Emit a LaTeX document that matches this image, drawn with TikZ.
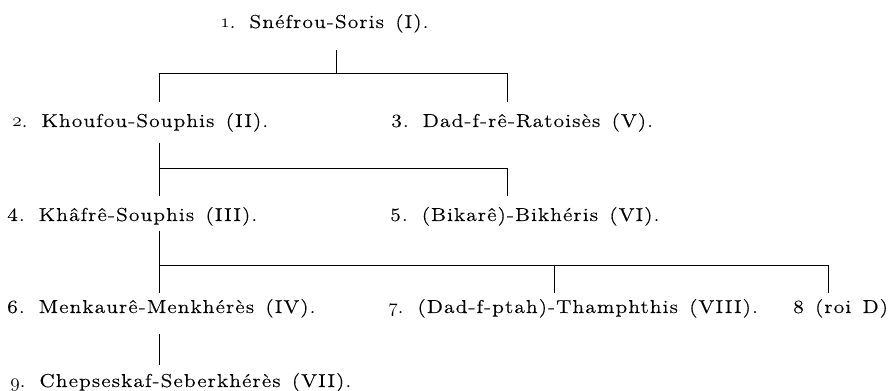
\documentclass[tikz,border=0pt]{standalone}
\usepackage{fontspec}
\usepackage{tikz}
\usetikzlibrary{positioning}
\newfontfamily\kingfont{Latin Modern Roman}[FakeStretch=1.15,LetterSpace=6,WordSpace=1.4,FakeBold=0.3]
\newcommand{\osn}[1]{{\usefont{OML}{cmm}{m}{it}#1}}

\begin{document}
\begin{tikzpicture}[
  x=0.75pt, y=-0.75pt,
  king/.style={anchor=base west, inner sep=0pt, font=\kingfont\fontsize{14}{16}\selectfont},
  link/.style={line width=0.6pt}
]
\useasboundingbox (0,0) rectangle (895,391);

%% -- generations --
\node[king] (k1) at (220,28) {\osn{1}. Snéfrou-Soris (I).};
\node[king] (k2) at (12,127) {\osn{2}. Khoufou-Souphis (II).};
\node[king] (k3) at (391,127) {3. Dad-f-rê-Ratoisès (V).};
\node[king] (k4) at (7,221) {4. Khâfrê-Souphis (III).};
\node[king] (k5) at (390,221) {5. (Bikarê)-Bikhéris (VI).};
\node[king] (k6) at (7,313) {6. Menkaurê-Menkhérès (IV).};
\node[king] (k7) at (388,313) {\osn{7}. (Dad-f-ptah)-Thamphthis (VIII).};
\node[king] (k8) at (793,313) {8 (roi D)};
\node[king] (k9) at (10,387) {\osn{9}. Chepseskaf-Seberkhérès (VII).};

%% -- columns and bars --
\coordinate (trunk) at (159,0);
\coordinate (tick) at (336,0);
\coordinate (right) at (507,0);
\coordinate (mid) at (554,0);
\coordinate (far) at (828,0);
\coordinate (bar1) at (0,73);
\coordinate (bar2) at (0,168);
\coordinate (bar3) at (0,265);

%% -- 1 -> 2, 3 --
\draw[link] ([yshift=-13pt]k1.south -| tick) -- (tick |- bar1);
\draw[link] ([yshift=8pt]k2.north -| trunk) -- (trunk |- bar1)
  -- (right |- bar1) -- ([yshift=8pt]k3.north -| right);

%% -- 2 -> 4, 5 --
\draw[link] ([yshift=-8pt]k2.south -| trunk) -- ([yshift=8pt]k4.north -| trunk);
\draw[link] (trunk |- bar2) -- (right |- bar2) -- ([yshift=8pt]k5.north -| right);

%% -- 4 -> 6, 7, 8 --
\draw[link] ([yshift=-4pt]k4.south -| trunk) -- ([yshift=4pt]k6.north -| trunk);
\draw[link] (trunk |- bar3) -- (far |- bar3) -- ([yshift=4pt]k8.north -| far);
\draw[link] (mid |- bar3) -- ([yshift=4pt]k7.north -| mid);

%% -- 6 -> 9 --
\draw[link] ([yshift=-12pt]k6.south -| trunk) -- ([yshift=6pt]k9.north -| trunk);

\end{tikzpicture}
\end{document}
